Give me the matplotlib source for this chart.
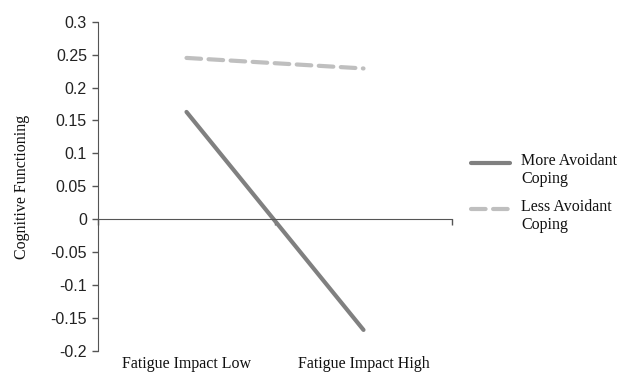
import matplotlib.pyplot as plt
import matplotlib.transforms as mtransforms
from matplotlib.lines import Line2D

# values
categories = ["Fatigue Impact Low", "Fatigue Impact High"]
more_avoidant = [0.163, -0.168]
less_avoidant = [0.245, 0.229]
series_labels = ["More Avoidant\nCoping", "Less Avoidant\nCoping"]
y_ticks = [-0.2, -0.15, -0.1, -0.05, 0, 0.05, 0.1, 0.15, 0.2, 0.25, 0.3]
y_tick_labels = ["-0.2", "-0.15", "-0.1", "-0.05", "0", "0.05", "0.1", "0.15", "0.2", "0.25", "0.3"]

W, H = 634, 373
FS = 11.5
fig = plt.figure(figsize=(W / 100, H / 100), dpi=100)
ax = fig.add_axes([98 / W, 1 - 351 / H, (452 - 98) / W, (351 - 21.7) / H])

styles = [dict(color="#808080", lw=3.0, solid_capstyle="round"),
          dict(color="#bfbfbf", lw=3.0, ls=(0, (3.5, 1.8)), dash_capstyle="round")]

x = list(range(len(categories)))
ax.plot(x, more_avoidant, **styles[0])
ax.plot(x, less_avoidant, **styles[1])

ax.set_xlim(-0.5, len(categories) - 0.5)
ax.set_ylim(-0.2, 0.3)
ax.set_yticks(y_ticks)
ax.set_yticklabels(y_tick_labels, family="Liberation Sans", fontsize=FS, color="#222222")
ax.tick_params(axis="y", direction="out", length=4, width=1, color="#555555", pad=4)

for s in ["top", "right"]:
    ax.spines[s].set_visible(False)
ax.spines["left"].set_color("#555555")
ax.spines["bottom"].set_position(("data", 0))
ax.spines["bottom"].set_color("#555555")

# category boundaries as ticks on the zero line
ax.set_xticks([i - 0.5 for i in range(len(categories) + 1)])
ax.set_xticklabels([])
ax.tick_params(axis="x", direction="out", length=4, width=1, color="#555555")

trans = mtransforms.blended_transform_factory(ax.transData, fig.transFigure)
for i, c in enumerate(categories):
    ax.text(i, 1 - 364 / H, c, transform=trans, ha="center", va="center",
            family="Liberation Serif", fontsize=FS, color="#111111")

fig.text(22 / W, 1 - 187 / H, "Cognitive Functioning", rotation=90,
         ha="center", va="center", family="Liberation Serif", fontsize=FS,
         color="#111111")

# legend: handle sits on the first line of each two-line label
for k, (lab, st) in enumerate(zip(series_labels, styles)):
    y0 = 163 + k * 46
    fig.add_artist(Line2D([471 / W, 510 / W], [1 - y0 / H, 1 - y0 / H],
                          transform=fig.transFigure, **st))
    fig.text(521 / W, 1 - (y0 - 10) / H, lab, ha="left", va="top",
             family="Liberation Serif", fontsize=FS, color="#111111",
             linespacing=1.15)

plt.savefig("out.png", dpi=100)
